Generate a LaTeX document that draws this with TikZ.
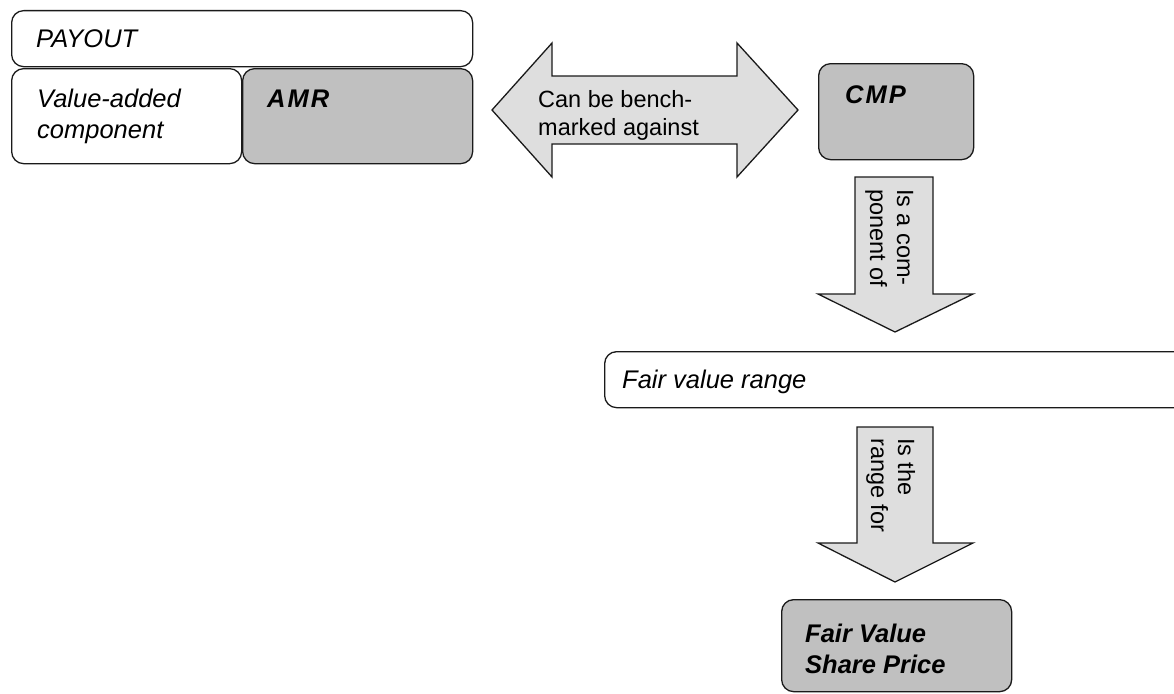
\documentclass[tikz,border=0pt]{standalone}
\usepackage{fontspec}
\setmainfont{Liberation Sans}
\definecolor{boxgray}{HTML}{C0C0C0}
\definecolor{arrowgray}{HTML}{DEDEDE}
\definecolor{edge}{HTML}{1A1A1A}
\begin{document}
\begin{tikzpicture}[x=1pt,y=-1pt,
  box/.style={draw=edge, line width=1.3pt, rounded corners=12pt, fill=white, inner sep=0pt},
  darkbox/.style={box, fill=boxgray},
  blockarrow/.style={draw=edge, line width=1.3pt, fill=arrowgray, line join=miter},
  txt/.style={anchor=base west, inner sep=0pt, font=\fontsize{23.5}{28}\selectfont},
  itxt/.style={txt, font=\fontsize{25.5}{30}\selectfont\itshape},
  btxt/.style={txt, font=\fontsize{25.5}{30}\selectfont\bfseries\itshape},
  stxt/.style={txt, font=\fontsize{25.5}{30}\selectfont\bfseries\itshape\addfontfeature{LetterSpace=8}},
  vtxt/.style={txt, rotate=-90}]
\clip (0,0) rectangle (1174,693);

% stacked boxes, top left
\node[box, anchor=north west, minimum width=461pt, minimum height=56pt] (payout) at (11,10) {};
\node[box, anchor=north west, minimum width=230pt, minimum height=95pt] (valadd) at (11,68) {};
\node[darkbox, anchor=north west, minimum width=230pt, minimum height=95pt] (amr) at (242,68) {};
\node[itxt] (tpayout) at (36,48) {PAYOUT};
\node[itxt] (tvala) at (37,107) {Value-added};
\node[itxt] (tvalb) at (37,138) {component};
\node[stxt] (tamr) at (267,107) {AMR};

% benchmark double arrow
\draw[blockarrow] (492,110) -- (552,43) -- (552,76) -- (737,76) -- (737,43) -- (798,110)
  -- (737,177) -- (737,144) -- (552,144) -- (552,177) -- cycle;
\node[txt] (tbencha) at (538,107) {Can be bench-};
\node[txt] (tbenchb) at (538,135) {marked against};

% CMP
\node[darkbox, anchor=north west, minimum width=155pt, minimum height=96pt] (cmp) at (818,63) {};
\node[stxt] (tcmp) at (845,103) {CMP};

% first down arrow
\draw[blockarrow] (855,177) -- (933,177) -- (933,294) -- (973,294) -- (895,332)
  -- (818,294) -- (855,294) -- cycle;
\node[vtxt] (tcompa) at (897,189) {Is a com-};
\node[vtxt] (tcompb) at (870,189) {ponent of};

% fair value range
\node[box, anchor=north west, minimum width=620pt, minimum height=56pt] (range) at (604,351) {};
\node[itxt] (trange) at (622,388) {Fair value range};

% second down arrow
\draw[blockarrow] (857,427) -- (933,427) -- (933,543) -- (973,543) -- (895,582)
  -- (818,543) -- (857,543) -- cycle;
\node[vtxt] (tfora) at (898,438) {Is the};
\node[vtxt] (tforb) at (871,438) {range for};

% fair value share price
\node[darkbox, anchor=north west, minimum width=230pt, minimum height=92pt] (fvsp) at (781,599) {};
\node[btxt] (tfva) at (805,642) {Fair Value};
\node[btxt] (tfvb) at (805,673) {Share Price};
\end{tikzpicture}
\end{document}
